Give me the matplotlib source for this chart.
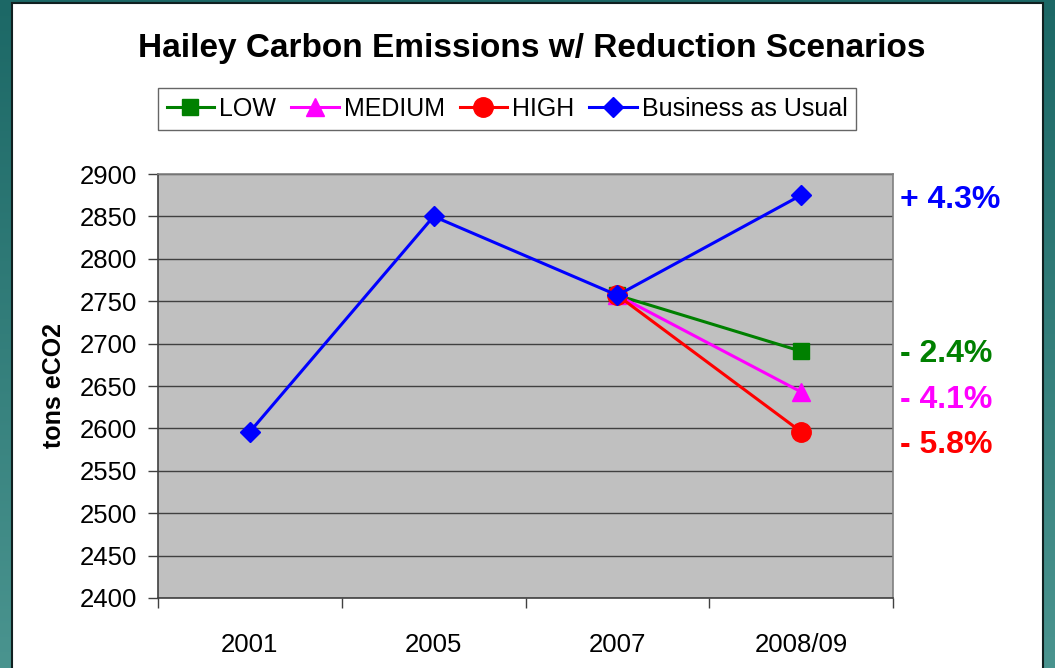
import numpy as np
import matplotlib
matplotlib.use("Agg")
import matplotlib.pyplot as plt
from matplotlib.patches import Rectangle
from matplotlib.ticker import FixedLocator

plt.rcParams['font.family'] = ['Liberation Sans', 'DejaVu Sans']

categories = ["2001", "2005", "2007", "2008/09"]
bau = [2596, 2850, 2757, 2875]
low = [np.nan, np.nan, 2757, 2691]
medium = [np.nan, np.nan, 2757, 2643]
high = [np.nan, np.nan, 2757, 2596]
pct_labels = ["+ 4.3%", "- 2.4%", "- 4.1%", "- 5.8%"]
pct_values = [2869, 2688, 2633, 2580]
pct_colors = ["#0000FF", "#008000", "#FF00FF", "#FF0000"]

W, H = 1055, 668
fig = plt.figure(figsize=(W / 100, H / 100), dpi=100)

# teal gradient background
bg = fig.add_axes([0, 0, 1, 1], zorder=-10)
grad = np.linspace(0, 1, 256).reshape(-1, 1)
top_c = np.array([0x1c, 0x68, 0x66]) / 255
bot_c = np.array([0x4a, 0x94, 0x8f]) / 255
img = top_c[None, None, :] * (1 - grad[:, :, None]) + bot_c[None, None, :] * grad[:, :, None]
bg.imshow(img, aspect='auto', extent=[0, 1, 0, 1])
bg.set_xlim(0, 1); bg.set_ylim(0, 1)
bg.axis('off')
bg.add_patch(Rectangle((12 / W, -0.01), (1043 - 12) / W, (H - 3) / H + 0.01,
                       facecolor='white', edgecolor='#102020', lw=1.5,
                       transform=bg.transAxes))

ax = fig.add_axes([158 / W, (H - 598) / H, (893 - 158) / W, (598 - 174) / H])
ax.set_facecolor('#C0C0C0')
x = np.arange(len(categories))

ax.plot(x, low, color='#008000', lw=2.2, marker='s', ms=11, label='LOW', zorder=3)
ax.plot(x, medium, color='#FF00FF', lw=2.2, marker='^', ms=13, label='MEDIUM', zorder=3)
ax.plot(x, high, color='#FF0000', lw=2.2, marker='o', ms=14, label='HIGH', zorder=3)
ax.plot(x, bau, color='#0000FF', lw=2.2, marker='D', ms=10.5, label='Business as Usual', zorder=4)

ax.set_xlim(-0.5, 3.5)
ax.set_ylim(2400, 2900)
ax.set_yticks(np.arange(2400, 2901, 50))
ax.yaxis.grid(True, color='#404040', lw=1)
ax.set_axisbelow(True)

ax.set_xticks(x)
ax.set_xticklabels(categories)
ax.xaxis.set_minor_locator(FixedLocator(np.arange(-0.5, 3.6, 1.0)))
ax.tick_params(axis='x', which='major', length=0, pad=25, labelsize=18.5)
ax.tick_params(axis='x', which='minor', length=7, width=1, color='#404040', direction='out')
ax.tick_params(axis='y', length=7, width=1, color='#404040', direction='out', pad=8, labelsize=18.5)

for s in ['left', 'bottom']:
    ax.spines[s].set_color('#404040')
    ax.spines[s].set_linewidth(1.2)
for s in ['top', 'right']:
    ax.spines[s].set_color('#808080')
    ax.spines[s].set_linewidth(1.2)

ax.set_ylabel('tons eCO2', fontsize=18, fontweight='bold', labelpad=10)

fig.text(532 / W, 1 - 48 / H, 'Hailey Carbon Emissions w/ Reduction Scenarios',
         ha='center', va='center', fontsize=24, fontweight='bold')

leg = fig.legend(loc='center', bbox_to_anchor=(507 / W, 1 - 109 / H), ncol=4,
                 frameon=True, fancybox=False, fontsize=18, handlelength=1.9,
                 handletextpad=0.2, columnspacing=0.6, borderpad=0.35,
                 edgecolor='#404040')
leg.get_frame().set_linewidth(1.0)

for lab, v, c in zip(pct_labels, pct_values, pct_colors):
    ax.annotate(lab, xy=(1.0, v), xycoords=('axes fraction', 'data'),
                xytext=(5, 0), textcoords='offset points', ha='left', va='center',
                fontsize=23, fontweight='bold', color=c, annotation_clip=False)

fig.savefig('out.png', dpi=100)
